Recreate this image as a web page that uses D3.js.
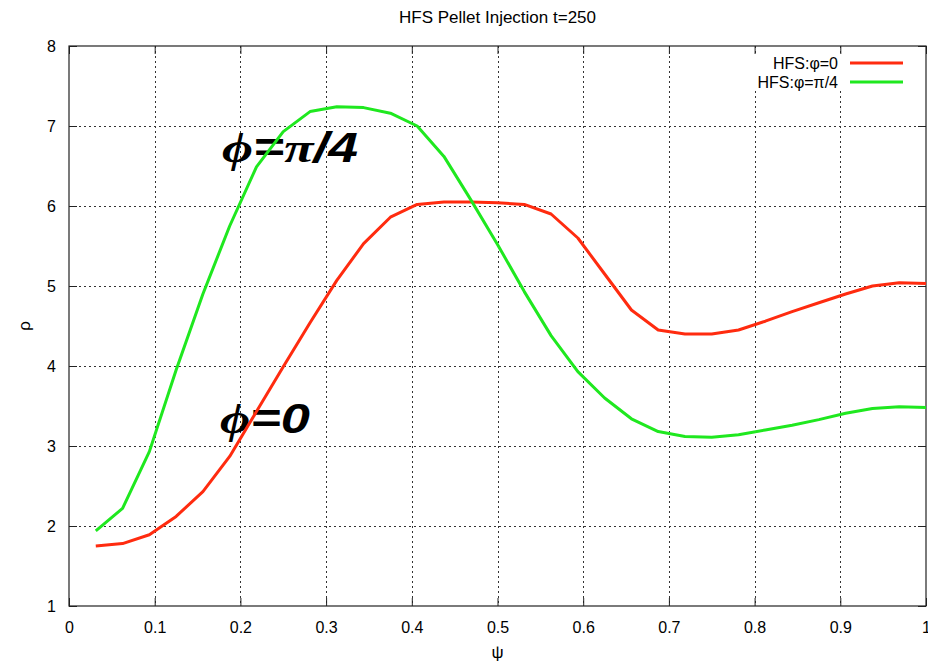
<!DOCTYPE html>
<html>
<head>
<meta charset="utf-8">
<script src="https://cdn.jsdelivr.net/npm/d3@7"></script>
<style>
  body { margin: 0; background: #fff; }
  svg { display: block; font-family: "Liberation Sans", Arial, sans-serif; }
</style>
</head>
<body>
<svg id="chart" width="928" height="665"></svg>
<script>
// psi sample points (k/32, k = 1..32)
const psi = d3.range(1, 33).map(k => k / 32);

// rho for phi = 0 (red)
const rhoPhi0 = [1.75, 1.78, 1.89, 2.12, 2.43, 2.87, 3.43, 3.99, 4.54, 5.07, 5.53, 5.86,
  6.02, 6.05, 6.05, 6.04, 6.02, 5.90, 5.60, 5.15, 4.70, 4.45, 4.40, 4.40,
  4.45, 4.56, 4.68, 4.79, 4.90, 5.00, 5.04, 5.03];

// rho for phi = pi/4 (green)
const rhoPhi4 = [1.94, 2.22, 2.93, 3.95, 4.90, 5.75, 6.49, 6.93, 7.18, 7.24, 7.23, 7.16,
  7.00, 6.62, 6.08, 5.52, 4.93, 4.38, 3.93, 3.60, 3.34, 3.18, 3.12, 3.11,
  3.14, 3.20, 3.26, 3.33, 3.41, 3.47, 3.49, 3.48];

const xTicks = [0, 0.1, 0.2, 0.3, 0.4, 0.5, 0.6, 0.7, 0.8, 0.9, 1];
const yTicks = [1, 2, 3, 4, 5, 6, 7, 8];
const seriesNames = ["HFS:\u03c6=0", "HFS:\u03c6=\u03c0/4"];
const seriesColors = ["#ff2b0f", "#1fe81f"];

const svg = d3.select("#chart");
const margin = { left: 69, right: 2, top: 46, bottom: 59 };
const W = 928, H = 665;

const x = d3.scaleLinear().domain([0, 1]).range([margin.left, W - margin.right]);
const y = d3.scaleLinear().domain([1, 8]).range([H - margin.bottom, margin.top]);

// grid
const grid = svg.append("g")
  .attr("stroke", "#333")
  .attr("stroke-width", 1)
  .attr("stroke-dasharray", "2,3");

grid.selectAll(".gx")
  .data(xTicks.slice(1, -1))
  .enter().append("line")
  .attr("x1", d => Math.round(x(d)) + 0.5).attr("x2", d => Math.round(x(d)) + 0.5)
  .attr("y1", y(8)).attr("y2", y(1));

grid.selectAll(".gy")
  .data(yTicks.slice(1, -1))
  .enter().append("line")
  .attr("y1", d => Math.round(y(d)) + 0.5).attr("y2", d => Math.round(y(d)) + 0.5)
  .attr("x1", x(0)).attr("x2", x(1));

// legend background hides grid
svg.append("rect")
  .attr("x", 700).attr("y", 56)
  .attr("width", 225).attr("height", 33)
  .attr("fill", "#fff");

// axes with inward ticks
const fmt = d3.format("~g");
svg.append("g")
  .attr("transform", `translate(0,${y(1)})`)
  .call(d3.axisBottom(x).tickValues(xTicks).tickFormat(fmt).tickSize(-8).tickPadding(16));
svg.append("g")
  .attr("transform", `translate(${x(0)},0)`)
  .call(d3.axisLeft(y).tickValues(yTicks).tickFormat(fmt).tickSize(-8).tickPadding(13));
svg.append("g")
  .attr("transform", `translate(0,${y(8)})`)
  .call(d3.axisTop(x).tickValues(xTicks).tickFormat("").tickSize(-8));
svg.append("g")
  .attr("transform", `translate(${x(1)},0)`)
  .call(d3.axisRight(y).tickValues(yTicks).tickFormat("").tickSize(-8));

svg.selectAll(".domain").remove();
svg.selectAll(".tick line").attr("stroke", "#222");
svg.selectAll(".tick text")
  .attr("font-family", "Liberation Sans, Arial, sans-serif")
  .attr("font-size", 16)
  .attr("fill", "#000");

// border
svg.append("rect")
  .attr("x", x(0)).attr("y", y(8))
  .attr("width", x(1) - x(0)).attr("height", y(1) - y(8))
  .attr("fill", "none")
  .attr("stroke", "#222")
  .attr("stroke-width", 1.2);

// annotations (drawn under the curves)
const ann = svg.append("g")
  .attr("font-weight", "bold")
  .attr("font-style", "italic")
  .attr("font-size", 42)
  .attr("fill", "#000");

const a1 = ann.append("text").attr("x", 222).attr("y", 162)
  .attr("textLength", 136).attr("lengthAdjust", "spacingAndGlyphs");
a1.append("tspan").attr("font-family", "Liberation Serif, serif").text("\u03d5");
a1.append("tspan").text("=");
a1.append("tspan").attr("font-family", "Liberation Serif, serif").text("\u03c0");
a1.append("tspan").text("/4");

const a2 = ann.append("text").attr("x", 220).attr("y", 433)
  .attr("textLength", 90).attr("lengthAdjust", "spacingAndGlyphs");
a2.append("tspan").attr("font-family", "Liberation Serif, serif").text("\u03d5");
a2.append("tspan").text("=0");

// curves
const line = d3.line()
  .x((d, i) => x(psi[i]))
  .y(d => y(d));

[rhoPhi0, rhoPhi4].forEach((s, i) => {
  svg.append("path")
    .datum(s)
    .attr("d", line)
    .attr("fill", "none")
    .attr("stroke", seriesColors[i])
    .attr("stroke-width", 3)
    .attr("stroke-linejoin", "round");
});

// legend
const legend = svg.append("g");
seriesNames.forEach((name, i) => {
  const ly = 63 + i * 19;
  legend.append("text")
    .attr("x", 838).attr("y", ly)
    .attr("dy", "0.35em")
    .attr("text-anchor", "end")
    .attr("font-size", 16)
    .text(name);
  legend.append("line")
    .attr("x1", 850).attr("x2", 903)
    .attr("y1", ly).attr("y2", ly)
    .attr("stroke", seriesColors[i])
    .attr("stroke-width", 3);
});

// title and axis labels
svg.append("text")
  .attr("x", (x(0) + x(1)) / 2).attr("y", 23)
  .attr("text-anchor", "middle")
  .attr("font-size", 17)
  .text("HFS Pellet Injection t=250");

svg.append("text")
  .attr("x", (x(0) + x(1)) / 2).attr("y", 658)
  .attr("text-anchor", "middle")
  .attr("font-size", 17)
  .text("\u03c8");

svg.append("text")
  .attr("transform", `translate(30,${(y(1) + y(8)) / 2}) rotate(-90)`)
  .attr("text-anchor", "middle")
  .attr("font-size", 17)
  .text("\u03c1");
</script>
</body>
</html>
